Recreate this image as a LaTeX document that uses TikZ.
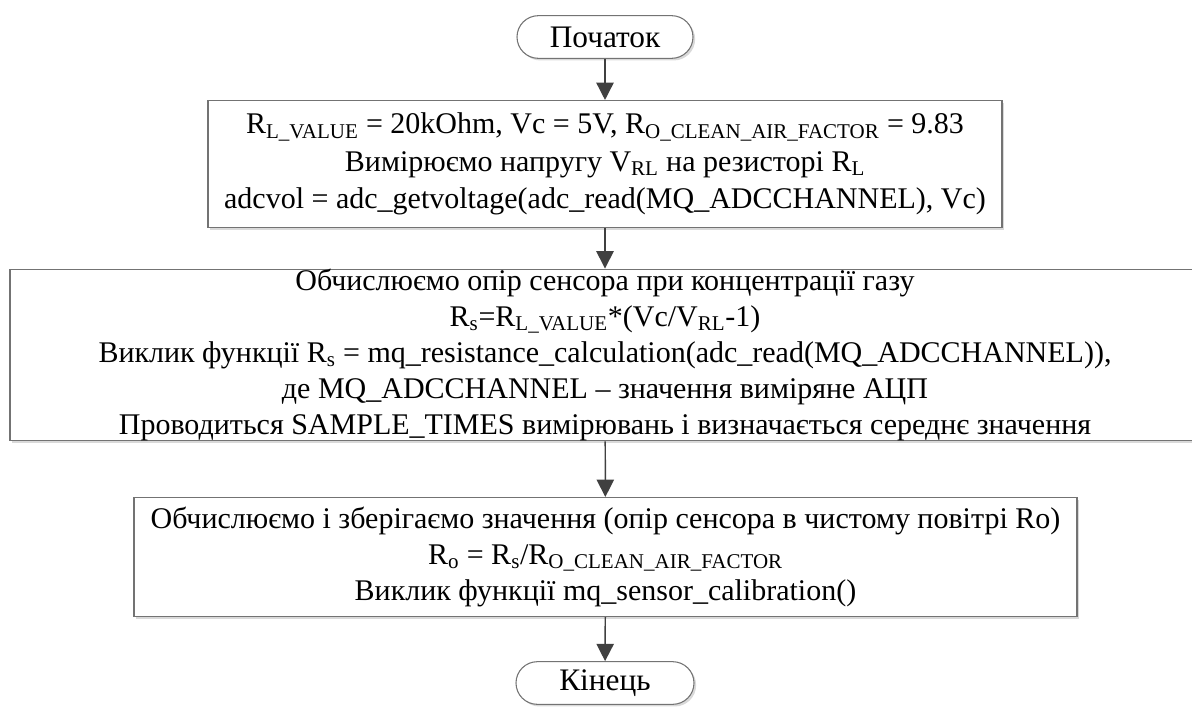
\documentclass[tikz,border=0pt]{standalone}
\usepackage{fontspec}
\setmainfont{Liberation Serif}
\usetikzlibrary{arrows.meta,shadows}

\begin{document}
\begin{tikzpicture}[x=0.75pt,y=-0.75pt,
  every node/.style={font=\fontsize{22.5}{27}\selectfont, align=center, inner sep=0pt},
  boxshadow/.style={drop shadow={shadow xshift=1.6pt, shadow yshift=-1.6pt, fill=black!15, opacity=1}},
  termbox/.style={draw=black!55, line width=0.8pt, fill=white, rounded corners=16pt,
    minimum width=132pt, minimum height=32pt, boxshadow, font=\fontsize{23.5}{27}\selectfont},
  procbox/.style={draw=black!55, line width=0.8pt, fill=white, boxshadow},
  flow/.style={draw=black!75, line width=1.1pt, -{Triangle[length=13pt,width=13pt]}}]

\useasboundingbox (0,0) rectangle (1192,711);

% Calibration of the gas sensor: from start to end

\node[termbox] (start) at (605,37) {Початок};

\node[procbox, minimum width=595.5pt, minimum height=95.25pt] (init) at (605,164)
  {R\textsubscript{L\_VALUE} = 20kOhm, Vc = 5V, R\textsubscript{O\_CLEAN\_AIR\_FACTOR} = 9.83\\[1pt]
   Вимірюємо напругу V\textsubscript{RL} на резисторі R\textsubscript{L}\\[1pt]
   adcvol = adc\_getvoltage(adc\_read(MQ\_ADCCHANNEL), Vc)};

\node[procbox, minimum width=892.5pt, minimum height=126.75pt] (rs) at (605,355)
  {Обчислюємо опір сенсора при концентрації газу\\
   R\textsubscript{s}=R\textsubscript{L\_VALUE}*(Vc/V\textsubscript{RL}-1)\\
   Виклик функції R\textsubscript{s} = mq\_resistance\_calculation(adc\_read(MQ\_ADCCHANNEL)),\\
   де MQ\_ADCCHANNEL – значення виміряне АЦП\\
   Проводиться SAMPLE\_TIMES вимірювань і визначається середнє значення};

\node[procbox, minimum width=707.25pt, minimum height=89.25pt] (ro) at (605.5,557)
  {Обчислюємо і зберігаємо значення (опір сенсора в чистому повітрі Ro)\\
   R\textsubscript{o} = R\textsubscript{s}/R\textsubscript{O\_CLEAN\_AIR\_FACTOR}\\
   Виклик функції mq\_sensor\_calibration()};

\node[termbox, minimum width=133.5pt] (finish) at (605,683) {Кінець};

\draw[flow] (start) -- (init);
\draw[flow] (init) -- (rs);
\draw[flow] (rs) -- (ro);
\draw[flow] (ro) -- (finish);

\end{tikzpicture}
\end{document}
